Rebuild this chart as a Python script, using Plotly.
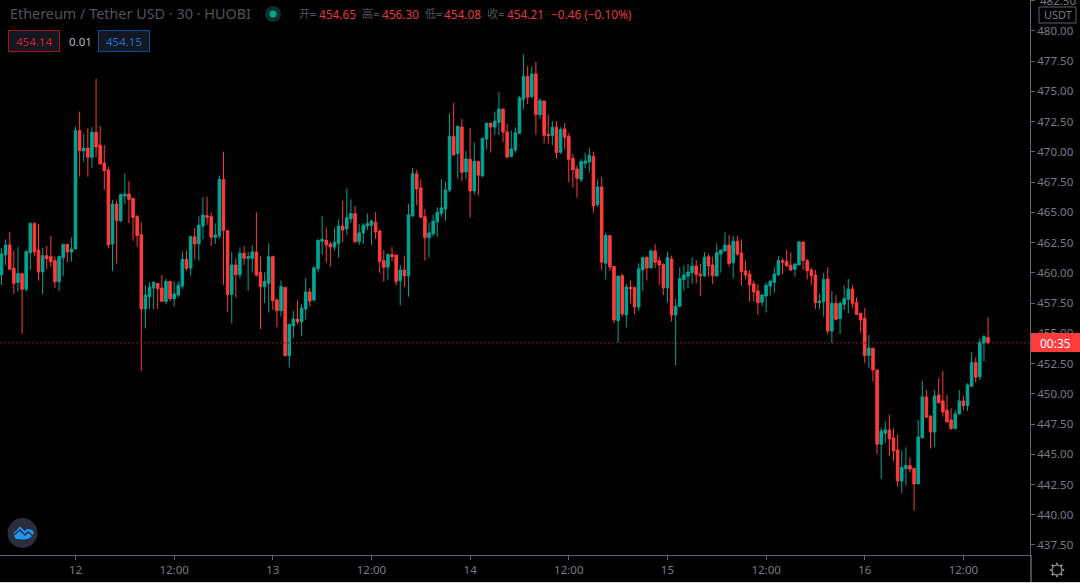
import pandas as pd
import plotly.graph_objects as go

START = "2020-11-11 15:00"
DAY_TICKS = ["2020-11-12 00:00","2020-11-12 12:00","2020-11-13 00:00","2020-11-13 12:00","2020-11-14 00:00",
             "2020-11-14 12:00","2020-11-15 00:00","2020-11-15 12:00","2020-11-16 00:00","2020-11-16 12:00"]
DAY_LABELS = ["12","12:00","13","12:00","14","12:00","15","12:00","16","12:00"]

opens = [459.82,461.48,462.30,460.37,459.19,459.93,458.64,461.67,464.07,461.89,460.07,461.42,461.34,461.01,459.27,461.25,462.36,461.72,
461.97,471.76,470.08,470.32,469.55,471.62,470.57,469.08,468.50,462.39,465.69,464.31,466.35,466.52,466.16,464.65,463.16,457.01,458.03,458.75,459.13,458.75,457.64,459.30,457.86,458.17,
458.91,461.12,460.40,462.99,462.39,463.87,464.73,464.65,462.94,463.05,467.73,463.49,458.20,460.65,459.85,461.61,461.20,461.20,461.72,460.04,458.86,459.13,461.34,457.76,456.87,458.80,453.15,455.61,456.18,455.96,457.01,458.42,457.76,460.35,462.61,462.69,462.39,462.14,462.44,463.87,
463.63,464.48,464.90,462.58,463.30,463.88,463.93,464.18,463.46,461.01,460.46,461.51,461.48,459.36,460.24,459.74,464.70,468.18,467.02,464.65,462.91,463.22,464.21,464.92,465.28,466.85,471.29,469.86,472.06,468.34,469.39,466.77,469.22,468.01,471.07,472.39,472.06,472.45,473.55,471.65,469.61,470.16,471.54,
474.35,476.25,474.57,476.45,473.08,474.21,471.46,471.35,472.04,469.97,471.90,471.29,469.47,468.59,467.71,469.06,469.17,469.64,465.64,467.10,460.79,463.08,460.54,456.05,459.77,456.52,458.81,458.81,457.18,460.24,461.26,460.40,461.81,461.01,460.71,458.75,461.15,456.52,457.23,459.44,459.74,
460.02,460.57,459.90,459.74,461.34,460.65,459.74,461.56,461.81,462.30,460.84,462.61,461.64,460.15,459.90,459.08,458.50,457.56,458.09,458.91,459.22,459.82,461.01,460.95,460.62,460.29,460.65,462.55,461.01,460.24,459.82,457.53,457.62,459.49,455.19,457.48,456.21,457.40,457.81,458.66,457.56,456.65,
456.22,453.16,453.76,451.97,445.83,446.73,447.01,446.35,445.36,442.79,443.81,444.06,443.84,442.55,446.35,449.74,448.17,446.84,449.90,449.41,448.64,447.84,447.12,448.33,449.41,449.02,450.62,452.58,451.40,454.18,454.65]

highs = [462.03,462.77,463.35,461.81,462.14,460.01,461.89,464.18,464.18,464.04,462.03,462.22,463.05,461.34,461.45,462.36,462.36,462.91,
472.09,473.33,471.48,471.95,472.06,476.03,472.14,470.57,468.75,466.02,465.97,466.57,468.23,467.59,466.16,464.78,464.18,458.99,459.22,459.30,459.13,459.82,459.52,459.30,459.30,459.30,
461.75,461.81,463.05,463.71,464.65,466.25,466.30,465.00,464.10,468.06,470.02,463.49,461.72,461.20,462.11,462.22,461.72,462.28,465.00,461.34,460.04,462.44,461.42,457.89,459.35,458.80,455.74,456.85,457.70,457.40,459.60,458.72,460.57,462.77,464.70,463.74,462.58,463.74,464.43,465.94,
466.99,466.08,465.53,464.04,464.10,464.90,464.37,465.03,463.55,461.89,461.62,462.14,461.48,460.65,461.42,465.70,468.67,468.51,467.74,465.28,464.12,464.79,465.42,467.74,467.51,473.19,474.05,472.12,472.72,470.08,471.98,470.79,469.22,471.13,472.39,472.39,473.33,474.93,473.55,472.31,471.76,472.04,474.63,
478.07,477.11,477.05,477.44,474.43,474.21,473.06,472.56,472.53,472.04,472.37,471.54,469.83,468.89,469.42,469.94,470.33,470.02,467.74,467.93,463.33,463.13,460.54,459.74,459.91,459.08,459.38,458.81,460.79,461.34,461.42,461.95,462.36,461.34,460.76,461.73,461.42,457.87,460.46,460.62,460.73,
461.28,461.06,460.73,461.72,461.56,461.34,462.44,461.89,463.35,463.13,463.07,463.07,462.77,461.01,460.24,459.35,459.05,458.17,459.22,459.41,460.46,461.39,461.20,461.89,461.70,460.79,462.61,462.63,461.15,460.43,460.24,458.25,459.96,460.46,458.50,458.17,457.62,458.97,459.49,459.00,457.98,456.71,
457.07,454.87,453.76,451.97,447.20,447.70,448.25,447.15,446.65,445.30,445.58,444.75,443.84,447.84,451.09,450.32,448.17,450.32,451.31,451.89,449.90,448.80,448.64,450.32,449.82,450.87,453.46,452.99,454.56,454.87,456.30]

lows = [458.99,460.65,460.29,458.25,458.44,454.94,458.44,460.24,461.34,459.35,458.25,460.32,460.51,458.75,458.50,459.74,460.87,460.92,
461.97,467.95,469.19,467.95,468.67,469.55,469.00,466.85,462.03,460.15,460.79,464.18,465.69,464.09,462.66,462.16,451.88,455.41,457.01,457.01,457.01,457.59,457.40,457.64,457.18,457.97,
458.67,460.18,459.77,461.12,461.01,462.77,463.96,462.22,462.39,462.83,459.00,456.79,455.83,457.95,459.52,460.65,458.53,460.02,459.69,455.36,457.48,456.71,456.93,455.50,456.38,453.15,452.19,454.64,455.77,454.78,456.16,457.20,457.62,460.02,461.48,460.84,460.51,461.81,461.26,462.52,
463.13,464.15,462.44,462.31,462.39,463.55,462.31,462.80,459.99,459.27,459.44,460.98,458.97,457.32,458.83,458.03,464.65,465.61,464.59,461.01,461.26,462.99,462.99,464.65,464.32,466.69,469.69,467.79,467.60,467.74,464.57,466.47,466.38,467.96,470.24,469.94,471.40,471.40,470.82,469.44,469.55,469.94,471.54,
473.55,473.96,474.41,471.43,472.72,470.71,470.66,470.57,469.44,469.83,470.24,467.49,467.07,466.22,467.49,468.65,468.29,464.98,465.45,460.24,459.47,460.16,455.83,454.23,456.38,455.50,457.48,456.60,456.85,458.50,459.36,460.40,460.38,459.00,458.17,457.54,455.97,452.33,457.23,458.53,458.75,
459.08,459.13,458.09,459.68,459.68,459.08,459.68,460.02,461.75,460.51,459.55,461.42,458.97,459.46,457.62,457.62,456.51,457.26,456.71,458.11,458.36,459.82,459.90,460.51,460.15,459.68,460.65,460.24,459.46,459.00,457.01,457.01,456.38,454.94,454.17,456.05,454.94,456.93,456.65,457.07,456.51,455.05,
452.52,452.16,451.01,445.03,442.96,445.96,444.86,444.45,442.32,441.77,442.41,443.48,440.34,442.55,446.35,448.03,445.47,445.60,449.16,448.11,447.62,447.01,447.12,448.33,448.66,448.58,450.62,450.92,451.14,452.66,454.08]

closes = [461.56,462.30,460.29,459.13,459.93,458.64,461.75,464.07,461.72,460.07,461.42,461.17,460.92,459.27,461.34,462.36,461.72,461.97,
471.76,470.10,470.32,469.55,471.62,470.41,469.00,468.45,462.30,465.69,464.31,466.46,466.52,466.08,464.59,463.07,457.01,458.17,458.80,459.22,458.69,457.64,459.30,457.86,458.25,458.97,
461.12,460.37,462.99,462.39,463.93,464.78,464.59,462.94,463.13,467.73,463.49,458.20,460.65,459.85,461.61,461.20,461.34,461.72,459.82,458.86,459.30,461.34,457.70,456.87,458.86,453.15,455.74,456.18,455.96,457.07,458.42,457.67,460.40,462.69,462.77,462.30,462.14,462.52,463.87,463.54,
464.57,464.90,462.58,463.30,463.93,464.07,464.29,463.38,460.95,460.46,461.51,461.34,459.27,460.24,459.74,464.79,468.20,466.94,464.59,462.91,463.30,464.26,465.01,465.37,466.85,471.29,469.75,472.12,468.31,469.42,466.77,469.22,468.07,471.13,472.39,472.06,472.53,473.55,471.65,469.58,470.24,471.57,474.46,
476.25,474.52,476.45,473.08,474.24,471.37,471.35,472.04,469.94,471.84,471.21,469.39,468.51,467.82,469.20,469.25,469.72,465.53,467.10,460.87,463.08,460.49,456.10,459.74,456.60,458.83,458.67,457.18,460.32,461.26,460.40,461.81,460.87,460.65,458.75,461.26,456.52,457.23,459.52,459.82,460.07,
460.57,459.85,459.77,461.28,460.57,459.77,461.67,461.89,462.30,460.79,462.61,461.56,460.10,459.82,459.00,458.42,457.53,458.17,458.97,459.30,459.90,461.01,460.87,460.57,460.24,460.73,462.55,461.01,460.18,459.77,457.53,457.67,459.44,455.19,457.48,456.16,457.48,457.87,458.66,457.48,456.57,456.10,
453.16,453.79,451.97,445.83,446.93,447.01,446.27,445.27,442.79,443.92,444.06,443.76,442.55,446.43,449.74,448.06,446.84,449.82,449.27,448.50,447.67,447.12,448.33,449.41,449.02,450.73,452.58,451.37,454.26,454.73,454.21]

assert len(opens) == len(highs) == len(lows) == len(closes) == 241

times = pd.date_range(START, periods=len(opens), freq="30min")
STEP = pd.Timedelta(minutes=30)
TEAL, RED = "#00a594", "#ff3b3b"
GREY = "#787b86"
W_PLOT, H_PLOT = 1030, 555

px = lambda v: v / W_PLOT
py = lambda v: (H_PLOT - v) / H_PLOT

fig = go.Figure(go.Candlestick(
    x=times, open=opens, high=highs, low=lows, close=closes, whiskerwidth=0,
    increasing=dict(line=dict(color=TEAL, width=1), fillcolor=TEAL),
    decreasing=dict(line=dict(color=RED, width=1), fillcolor=RED),
    hoverinfo="skip", showlegend=False))

UI = "Noto Sans, Noto Sans CJK SC, sans-serif"
notes, shapes = [], []

def note(x, y, text, color, size=11.5, anchor="left", **kw):
    notes.append(dict(x=px(x), y=py(y), xref="paper", yref="paper", text=text, showarrow=False,
                      xanchor=anchor, yanchor="middle", font=dict(family=UI, size=size, color=color),
                      borderpad=0, **kw))

def box(x0, y0, x1, y1, line=None, fill=None, kind="rect", w=1):
    shapes.append(dict(type=kind, xref="paper", yref="paper", x0=px(x0), x1=px(x1), y0=py(y0), y1=py(y1),
                       line=dict(color=line or "rgba(0,0,0,0)", width=w if line else 0), fillcolor=fill, layer="above"))

# header
note(9, 14, "Ethereum / Tether USD · 30 · HUOBI", "#50535e", 14.4)
box(265, 6, 281, 22, fill="#0b2f2b", kind="circle")
box(269.5, 10.5, 276.5, 17.5, fill="#00a594", kind="circle")
VALUE_RED = "#e63a3a"
for lx, label, vx, value in [(298, "开=", 318, "454.65"), (361, "高=", 381, "456.30"),
                             (424, "低=", 443, "454.08"), (486, "收=", 506, "454.21")]:
    note(lx, 14, label, "#50535e", 11)
    note(vx, 14, value, VALUE_RED, 11.8)
note(550, 14, "−0.46 (−0.10%)", VALUE_RED, 11.8)

# bid / ask
box(8.5, 30.5, 59.5, 51.5, line="#a8141c", fill="#131722")
note(34, 41, "454.14", "#d3202a", 11.5, "center")
note(68, 41, "0.01", "#b2b5be", 11.5)
box(98.5, 30.5, 149.5, 51.5, line="#0d4f96", fill="#131722")
note(124, 41, "454.15", "#1a6fc9", 11.5, "center")

# price line and countdown tag
shapes.append(dict(type="line", xref="paper", yref="y", x0=0, x1=1, y0=closes[-1], y1=closes[-1],
                   line=dict(color="#8a2222", width=1, dash="2px,2px"), layer="above"))
box(1031, 333, 1080, 352, fill=RED)
note(1055, 343, "00:35", "#ffffff", 12, "center")

# currency box on the price scale, and the tick label the top edge cuts off
note(1039, 1, "482.50", GREY, 11.5)
box(1039, 7, 1076, 23, line="#5d606b", fill="#000000")
note(1057.5, 15, "USDT", GREY, 11, "center")

# scale frame
box(1031, 555, 1031, 583, line="#60636d")
box(0, 582.5, 1080, 582.5, line="#d8d8d8")

# logo
box(7.5, 518, 37.5, 548, fill="#2a2e3c", kind="circle")
shapes.append(dict(type="path", xref="paper", yref="paper", fillcolor="#2196f3", line=dict(width=0), layer="above",
    path="M %f %f Q %f %f %f %f L %f %f L %f %f L %f %f Q %f %f %f %f Q %f %f %f %f Z" % (
        px(16), py(539), px(11), py(533), px(17), py(530), px(20), py(526.5), px(25), py(531), px(27), py(529),
        px(33), py(529), px(34), py(533), px(31), py(539), px(24), py(539.5))))
shapes.append(dict(type="path", xref="paper", yref="paper", line=dict(color="#2a2e3c", width=1.5), layer="above",
    path="M %f %f L %f %f L %f %f L %f %f L %f %f" % (
        px(14), py(535), px(20), py(530), px(25), py(535), px(28), py(532), px(33), py(536))))

# settings icon
box(1052, 565, 1062, 575, line="#b2b5be", kind="circle")
for dx, dy in [(0, -6.5), (0, 6.5), (-6.5, 0), (6.5, 0), (-4.6, -4.6), (4.6, -4.6), (-4.6, 4.6), (4.6, 4.6)]:
    box(1057 + dx * 0.85, 570 + dy * 0.85, 1057 + dx * 1.1, 570 + dy * 1.1, line="#b2b5be")

t0 = times[0]
fig.update_layout(
    width=1080, height=583, margin=dict(l=0, r=50, t=0, b=28),
    paper_bgcolor="#000000", plot_bgcolor="#000000", showlegend=False, hovermode=False, boxgap=0.12,
    font=dict(family=UI, color=GREY, size=11.5),
    annotations=notes, shapes=shapes,
    xaxis=dict(type="date", range=[t0 - 0.37 * STEP, t0 + 250.2 * STEP], rangeslider=dict(visible=False),
               tickmode="array", tickvals=DAY_TICKS, ticktext=DAY_LABELS, showgrid=False, zeroline=False,
               showline=True, linecolor="#60636d", linewidth=1, ticks="outside", ticklen=4, tickcolor="#60636d",
               tickfont=dict(color=GREY, size=11.5)),
    yaxis=dict(side="right", range=[436.67, 482.56], dtick=2.5, tick0=0, tickformat=".2f", showgrid=False,
               zeroline=False, showline=True, linecolor="#60636d", linewidth=1, ticks="outside", ticklen=4,
               tickcolor="#60636d", tickfont=dict(color=GREY, size=11.5)),
)

fig.write_html("out.html", config={"displayModeBar": False},
               post_script="document.body.style.margin='0';document.body.style.background='#000';document.body.style.overflow='hidden';")
